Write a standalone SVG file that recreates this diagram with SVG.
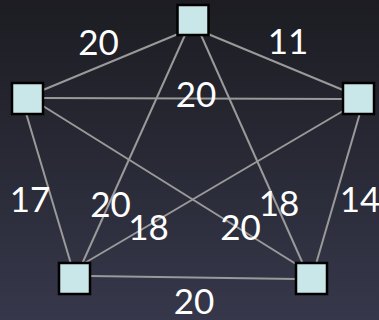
<svg xmlns="http://www.w3.org/2000/svg" width="379" height="320" viewBox="0 0 379 320">
<defs>
<linearGradient id="bg" x1="0" y1="0" x2="0" y2="1">
<stop offset="0" stop-color="#1c1c22"/>
<stop offset="1" stop-color="#36374a"/>
</linearGradient>
<style>
.e{stroke:#9a9a9a;stroke-width:2;fill:none}
.n{fill:#c9e6e8;stroke:#000;stroke-width:2.5}
.t{font-family:Lato,"Open Sans",sans-serif;font-size:35px;fill:#fff;text-anchor:middle}
</style>
</defs>
<rect width="379" height="320" fill="url(#bg)"/>
<g id="connectors">
<line class="e" x1="43" y1="90" x2="178" y2="34"/>
<line class="e" x1="208" y1="34" x2="343" y2="90"/>
<line class="e" x1="185" y1="35" x2="82" y2="264"/>
<line class="e" x1="201" y1="35" x2="303" y2="264"/>
<line class="e" x1="43" y1="98" x2="343" y2="99"/>
<line class="e" x1="26" y1="113" x2="71" y2="264"/>
<line class="e" x1="43" y1="106" x2="296" y2="264"/>
<line class="e" x1="343" y1="111" x2="83" y2="264"/>
<line class="e" x1="360" y1="113" x2="316" y2="264"/>
<line class="e" x1="90" y1="276" x2="296" y2="279"/>
</g>
<g id="node-top"><rect class="n" x="177.5" y="5" width="31" height="30"/></g>
<g id="node-left"><rect class="n" x="12" y="83" width="31" height="31"/></g>
<g id="node-right"><rect class="n" x="343" y="83" width="31" height="31"/></g>
<g id="node-bottom-left"><rect class="n" x="59" y="263" width="31" height="31"/></g>
<g id="node-bottom-right"><rect class="n" x="296" y="263" width="31" height="31"/></g>
<g id="labels">
<text class="t" x="98.5" y="55">20</text>
<text class="t" x="288" y="54">11</text>
<text class="t" x="196" y="107">20</text>
<text class="t" x="30" y="212">17</text>
<text class="t" x="110.5" y="217">20</text>
<text class="t" x="148.5" y="240">18</text>
<text class="t" x="240.5" y="240">20</text>
<text class="t" x="279" y="216">18</text>
<text class="t" x="360" y="212">14</text>
<text class="t" x="194" y="314">20</text>
</g>
</svg>
